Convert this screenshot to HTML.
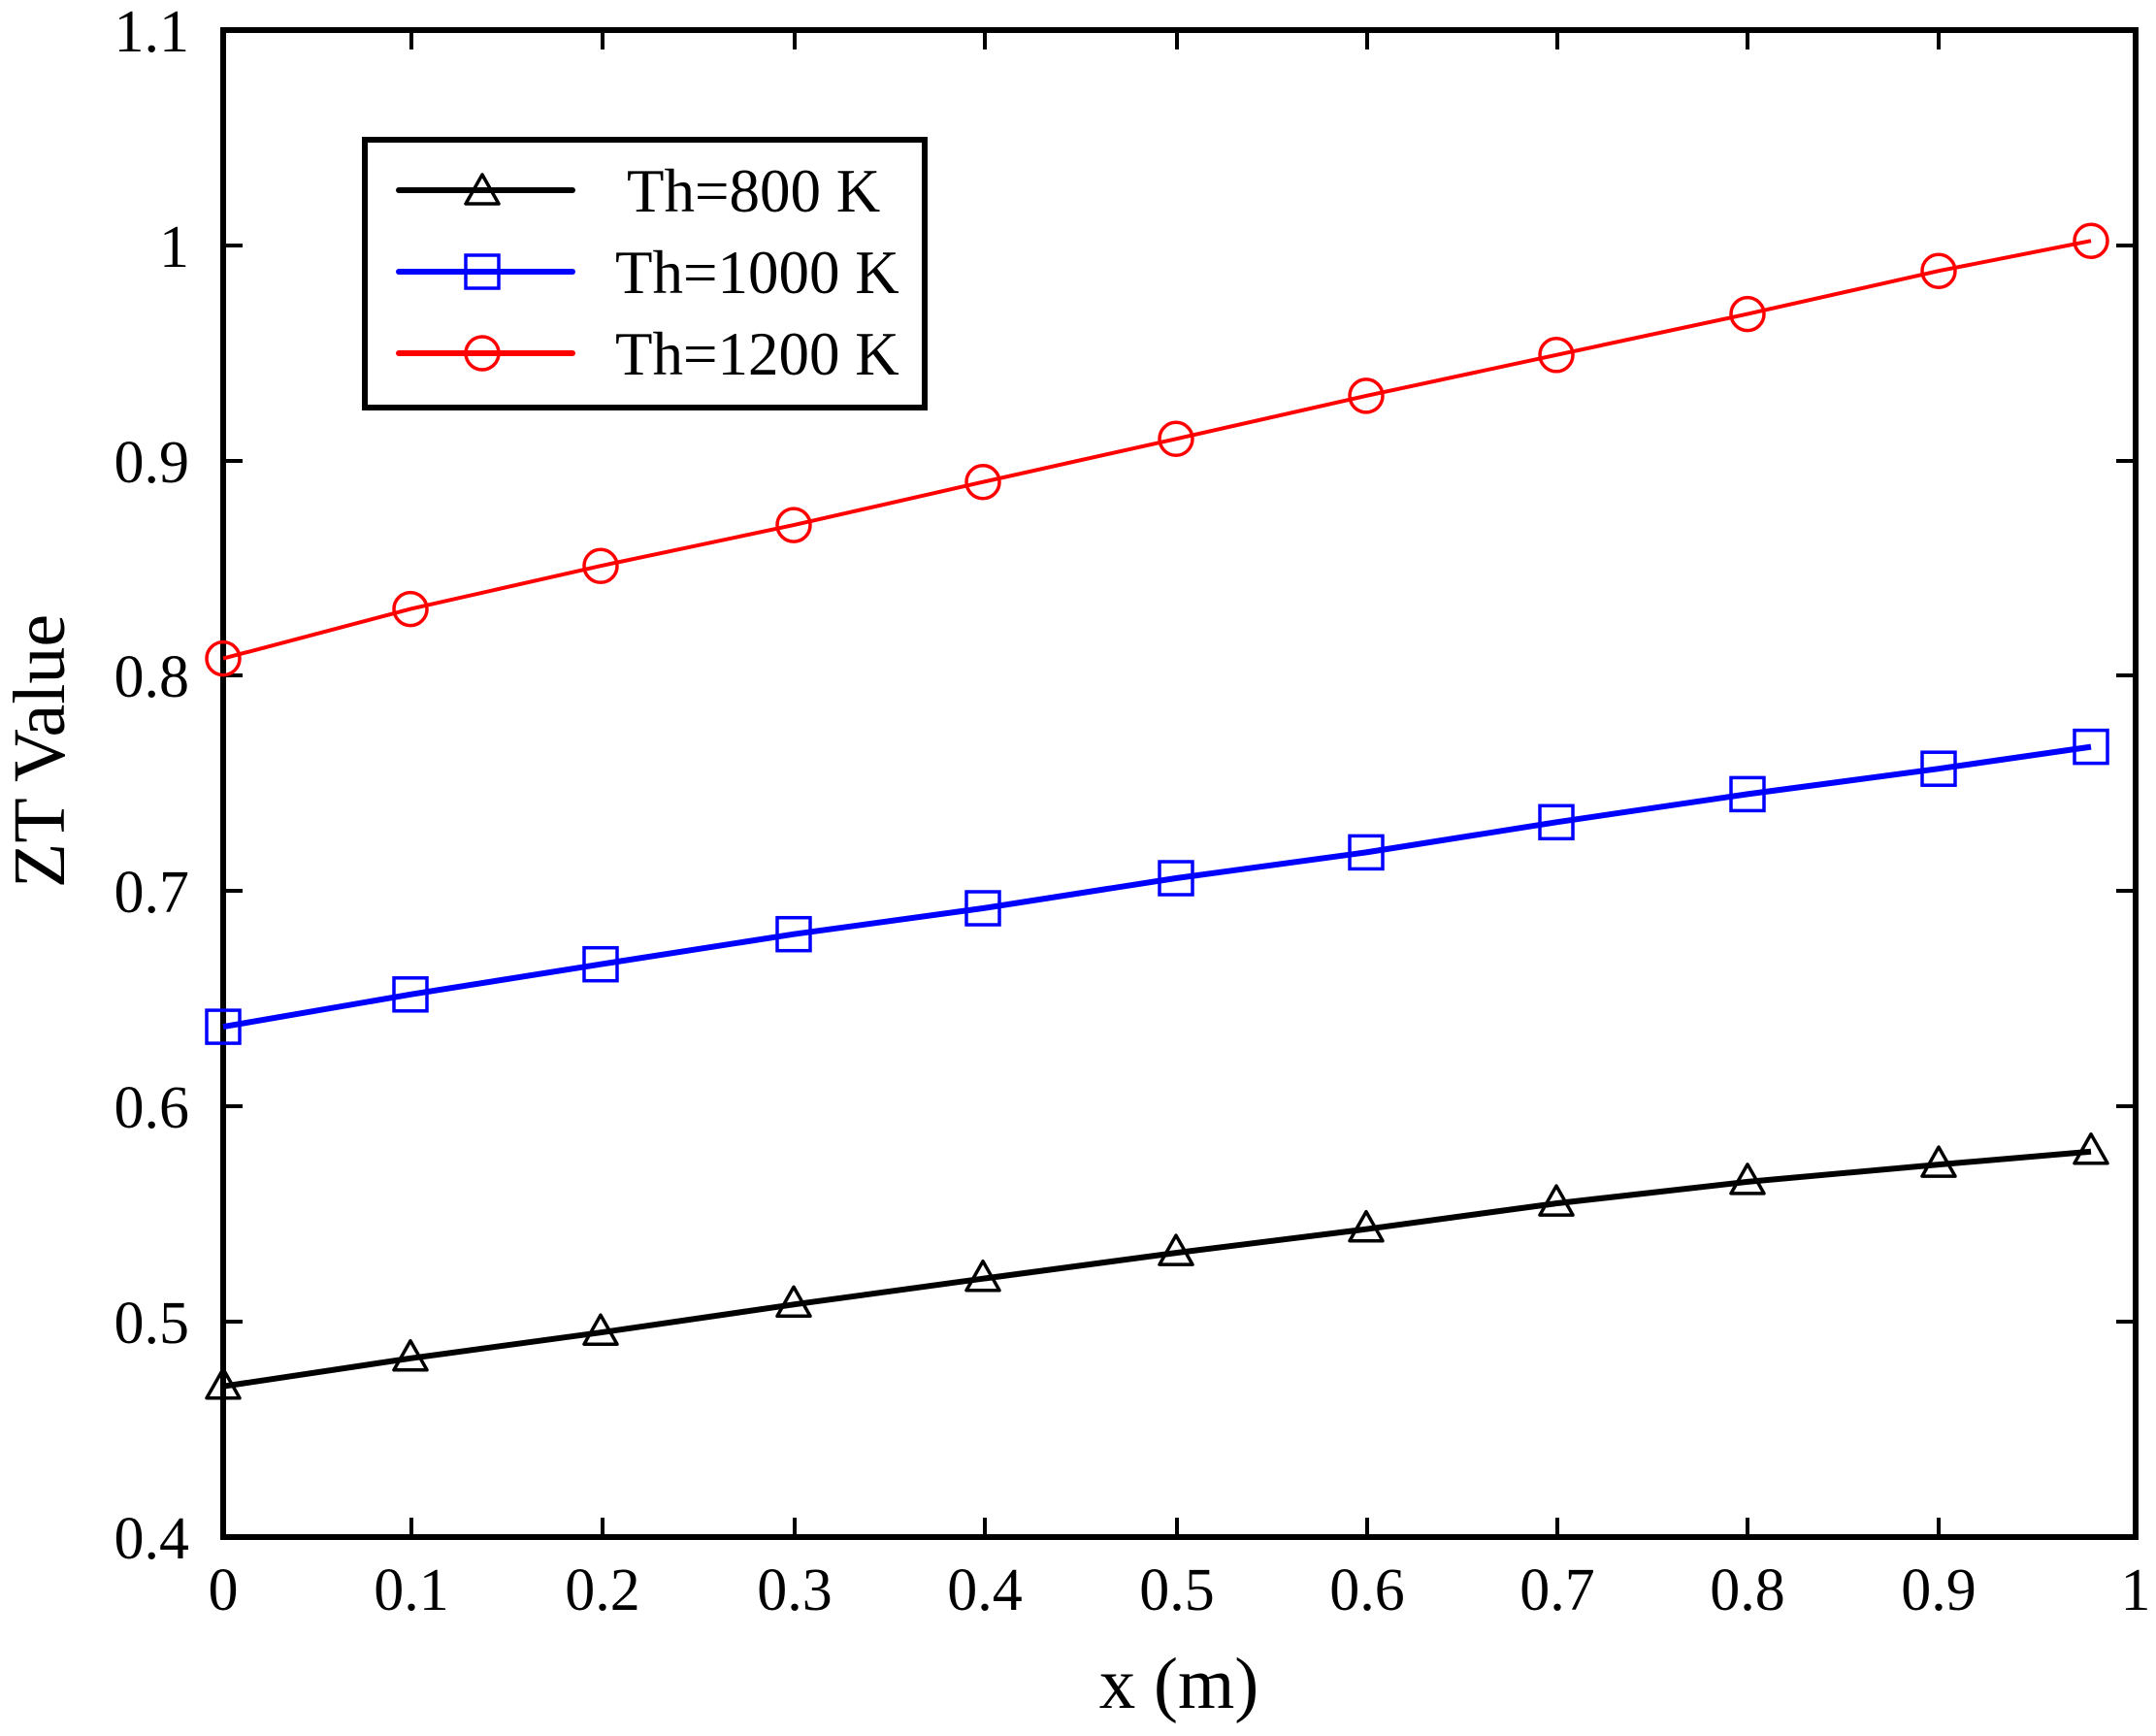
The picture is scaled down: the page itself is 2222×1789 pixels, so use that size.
<!DOCTYPE html>
<html><head><meta charset="utf-8"><style>html,body{margin:0;padding:0;background:#fff}svg{display:block}</style></head>
<body>
<svg width="2222" height="1789" viewBox="0 0 2222 1789" xmlns="http://www.w3.org/2000/svg" font-family="'Liberation Serif', serif">
<rect width="2222" height="1789" fill="#fff"/>
<g stroke="#000" stroke-width="4">
<line x1="424" y1="1584" x2="424" y2="1564"/><line x1="621" y1="1584" x2="621" y2="1564"/><line x1="819" y1="1584" x2="819" y2="1564"/><line x1="1015" y1="1584" x2="1015" y2="1564"/><line x1="1213" y1="1584" x2="1213" y2="1564"/><line x1="1409" y1="1584" x2="1409" y2="1564"/><line x1="1605" y1="1584" x2="1605" y2="1564"/><line x1="1801" y1="1584" x2="1801" y2="1564"/><line x1="1998" y1="1584" x2="1998" y2="1564"/>
<line x1="424" y1="31" x2="424" y2="51"/><line x1="621" y1="31" x2="621" y2="51"/><line x1="819" y1="31" x2="819" y2="51"/><line x1="1015" y1="31" x2="1015" y2="51"/><line x1="1213" y1="31" x2="1213" y2="51"/><line x1="1409" y1="31" x2="1409" y2="51"/><line x1="1605" y1="31" x2="1605" y2="51"/><line x1="1801" y1="31" x2="1801" y2="51"/><line x1="1998" y1="31" x2="1998" y2="51"/>
<line x1="230" y1="1362" x2="250" y2="1362"/><line x1="230" y1="1140" x2="250" y2="1140"/><line x1="230" y1="918" x2="250" y2="918"/><line x1="230" y1="696" x2="250" y2="696"/><line x1="230" y1="475" x2="250" y2="475"/><line x1="230" y1="253" x2="250" y2="253"/>
<line x1="2201" y1="1362" x2="2181" y2="1362"/><line x1="2201" y1="1140" x2="2181" y2="1140"/><line x1="2201" y1="918" x2="2181" y2="918"/><line x1="2201" y1="696" x2="2181" y2="696"/><line x1="2201" y1="475" x2="2181" y2="475"/><line x1="2201" y1="253" x2="2181" y2="253"/>
</g>
<rect x="230" y="31" width="1971" height="1553" fill="none" stroke="#000" stroke-width="6"/>
<g font-size="62" fill="#000" text-anchor="end">
<text x="195" y="1606">0.4</text><text x="195" y="1384">0.5</text><text x="195" y="1162">0.6</text><text x="195" y="940">0.7</text><text x="195" y="718">0.8</text><text x="195" y="497">0.9</text><text x="195" y="275">1</text><text x="195" y="53">1.1</text>
</g>
<g font-size="62" fill="#000" text-anchor="middle">
<text x="230" y="1659">0</text><text x="424" y="1659">0.1</text><text x="621" y="1659">0.2</text><text x="819" y="1659">0.3</text><text x="1015" y="1659">0.4</text><text x="1213" y="1659">0.5</text><text x="1409" y="1659">0.6</text><text x="1605" y="1659">0.7</text><text x="1801" y="1659">0.8</text><text x="1998" y="1659">0.9</text><text x="2201" y="1659">1</text>
</g>
<text x="1215" y="1760" font-size="75" text-anchor="middle">x (m)</text>
<text transform="translate(66,774) rotate(-90)" font-size="76" text-anchor="middle">ZT Value</text>

<g fill="none" stroke="#f00" stroke-width="4">
<polyline points="230,678.6 423,627.6 619,583.2 818,541.1 1013,496.7 1212,452.3 1408,407.9 1604,365.8 1801,323.6 1998,279.2 2155,248.2"/>
<g stroke-width="3.5"><circle cx="230" cy="678.6" r="17"/><circle cx="423" cy="627.6" r="17"/><circle cx="619" cy="583.2" r="17"/><circle cx="818" cy="541.1" r="17"/><circle cx="1013" cy="496.7" r="17"/><circle cx="1212" cy="452.3" r="17"/><circle cx="1408" cy="407.9" r="17"/><circle cx="1604" cy="365.8" r="17"/><circle cx="1801" cy="323.6" r="17"/><circle cx="1998" cy="279.2" r="17"/><circle cx="2155" cy="248.2" r="17"/></g>
</g>
<g fill="none" stroke="#00f" stroke-width="6">
<polyline points="230,1058.1 423,1024.8 619,993.7 818,962.7 1013,936 1212,905 1408,878.4 1604,847.3 1801,818.4 1998,792.2 2155,769.6"/>
<g stroke-width="3.5"><rect x="213" y="1041.1" width="34" height="34"/><rect x="406" y="1007.8" width="34" height="34"/><rect x="602" y="976.7" width="34" height="34"/><rect x="801" y="945.7" width="34" height="34"/><rect x="996" y="919" width="34" height="34"/><rect x="1195" y="888" width="34" height="34"/><rect x="1391" y="861.4" width="34" height="34"/><rect x="1587" y="830.3" width="34" height="34"/><rect x="1784" y="801.4" width="34" height="34"/><rect x="1981" y="775.2" width="34" height="34"/><rect x="2138" y="752.6" width="34" height="34"/></g>
</g>
<g fill="none" stroke="#000" stroke-width="6">
<polyline points="230,1428.7 423,1399.8 619,1373.2 818,1344.3 1013,1317.7 1212,1291.1 1408,1266.7 1604,1240.1 1801,1217.9 1998,1200.1 2155,1186.8"/>
<g stroke-width="3.5" stroke-linejoin="round">
<polygon points="230,1410.7 213,1440.7 247,1440.7"/><polygon points="423,1381.8 406,1411.8 440,1411.8"/><polygon points="619,1355.2 602,1385.2 636,1385.2"/><polygon points="818,1326.3 801,1356.3 835,1356.3"/><polygon points="1013,1299.7 996,1329.7 1030,1329.7"/><polygon points="1212,1273.1 1195,1303.1 1229,1303.1"/><polygon points="1408,1248.7 1391,1278.7 1425,1278.7"/><polygon points="1604,1222.1 1587,1252.1 1621,1252.1"/><polygon points="1801,1199.9 1784,1229.9 1818,1229.9"/><polygon points="1998,1182.1 1981,1212.1 2015,1212.1"/><polygon points="2155,1168.8 2138,1198.8 2172,1198.8"/>
</g></g>

<rect x="376" y="144" width="577" height="276" fill="#fff" stroke="#000" stroke-width="6"/>
<g stroke-width="6" fill="none" stroke-linecap="round">
<line x1="411" y1="196" x2="590" y2="196" stroke="#000"/>
<polygon points="497,180 480,210 514,210" stroke="#000" stroke-width="3.5" stroke-linejoin="round"/>
<line x1="411" y1="280" x2="590" y2="280" stroke="#00f"/>
<rect x="480" y="263" width="34" height="34" stroke="#00f" stroke-width="3.5"/>
<line x1="411" y1="364" x2="590" y2="364" stroke="#f00"/>
<circle cx="497" cy="364" r="17" stroke="#f00" stroke-width="3.5"/>
</g>
<g font-size="63" fill="#000">
<text x="646" y="218">Th=800 K</text>
<text x="634" y="302">Th=1000 K</text>
<text x="634" y="386">Th=1200 K</text>
</g>
</svg>
</body></html>
